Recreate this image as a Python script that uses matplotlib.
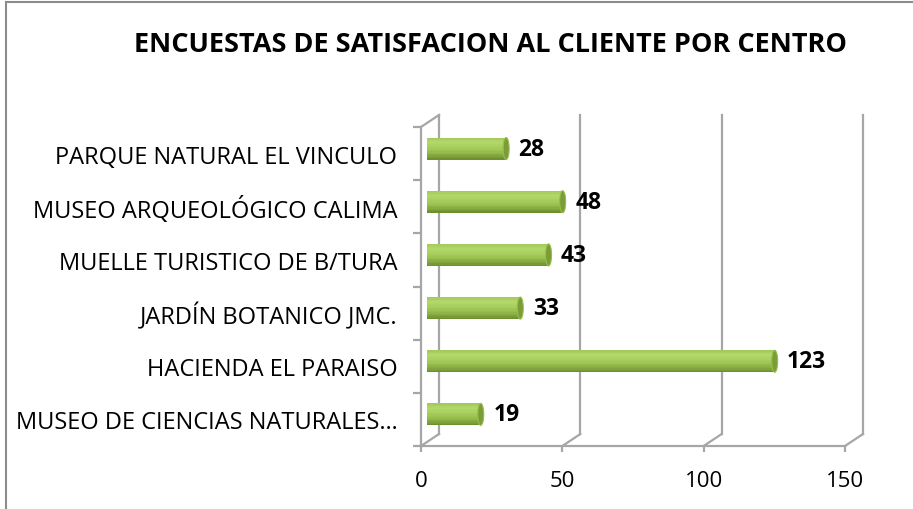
import numpy
import matplotlib
matplotlib.use('Agg')
import matplotlib.pyplot as plt
from matplotlib.patches import Ellipse, Rectangle
from matplotlib.colors import LinearSegmentedColormap


CENTROS = [
    "MUSEO DE CIENCIAS NATURALES…",
    "HACIENDA EL PARAISO",
    "JARDÍN BOTANICO JMC.",
    "MUELLE TURISTICO DE B/TURA",
    "MUSEO ARQUEOLÓGICO CALIMA",
    "PARQUE NATURAL EL VINCULO",
]
ENCUESTAS = [19, 123, 33, 43, 48, 28]
X_TICKS = [0, 50, 100, 150]
TITULO = "ENCUESTAS DE SATISFACION AL CLIENTE POR CENTRO"

FONT = ['Open Sans', 'DejaVu Sans']
GRID = '#a6a6a6'
W, H = 913, 510


def draw_chart():
    plt.rcParams['font.family'] = FONT
    fig = plt.figure(figsize=(W / 100, H / 100), dpi=100)

    # plot area in pixels (floor front edge / left wall)
    left, right, bottom, top = 421, 845, 447, 128
    ax = fig.add_axes([left / W, 1 - bottom / H,
                       (right - left) / W, (bottom - top) / H])
    ax.set_xlim(0, 150)
    ax.set_ylim(-0.5, len(CENTROS) - 0.5)
    for s in ax.spines.values():
        s.set_visible(False)

    # depth of the fake 3d box, converted from pixels to data units
    sx = (right - left) / 150
    sy = (bottom - top) / len(CENTROS)
    dx, dy = 18 / sx, 12 / sy
    ymin, ymax = -0.5, len(CENTROS) - 0.5

    lw = 1.6
    for v in X_TICKS:
        ax.plot([v + dx, v + dx], [ymin + dy, ymax + dy], color=GRID, lw=lw,
                clip_on=False, zorder=1)
        ax.plot([v, v + dx], [ymin, ymin + dy], color=GRID, lw=lw,
                clip_on=False, zorder=1)
    ax.plot([0, 0], [ymin, ymax], color=GRID, lw=lw, clip_on=False, zorder=1)
    ax.plot([0, dx], [ymax, ymax + dy], color=GRID, lw=lw, clip_on=False,
            zorder=1)
    ax.plot([0, 150], [ymin, ymin], color=GRID, lw=lw, clip_on=False,
            zorder=1)

    # cylinders (stacked strips for the shading)
    cmap = LinearSegmentedColormap.from_list(
        'cil', ['#6b8a2c', '#86aa40', '#9cc352', '#a9d05f', '#b3d86c',
                '#a2c858'])
    bh = 22 / sy
    bx, by = 6 / sx, 5 / sy
    nstrip = 16
    y = numpy.arange(len(CENTROS))
    for k in range(nstrip):
        frac = k / nstrip
        ax.barh(y + by - bh / 2 + frac * bh, ENCUESTAS, left=bx,
                height=bh / nstrip * 1.05, align='edge',
                color=cmap((k + 0.5) / nstrip), lw=0, zorder=3)
    for i, v in enumerate(ENCUESTAS):
        ax.add_patch(Ellipse((bx + v, i + by), 6 / sx, bh,
                             facecolor='#7b9c37', edgecolor='#97bd4e',
                             lw=0.8, zorder=4))
        ax.annotate(str(v), (bx + v, i + by), xytext=(9, 0),
                    textcoords='offset points', va='center', ha='left',
                    fontsize=16.5, fontweight='bold', color='black', zorder=5)

    ax.set_yticks(y)
    ax.set_yticklabels(CENTROS, fontsize=17)
    ax.tick_params(axis='y', length=0, pad=17)
    ax.set_yticks(numpy.arange(-0.5, len(CENTROS)), minor=True)
    ax.tick_params(axis='y', which='minor', length=6, width=lw, color=GRID)
    ax.set_xticks(X_TICKS)
    ax.set_xticklabels([str(t) for t in X_TICKS], fontsize=16)
    ax.tick_params(axis='x', length=4, width=lw, color=GRID, pad=13)

    fig.text(490 / W, 1 - 45 / H, TITULO, ha='center', va='center',
             fontsize=19.5, fontweight='bold')

    # chart border (only left and top are visible)
    fig.patches.append(Rectangle((6 / W, -0.1), 1.2, 1.1 - 3 / H,
                                 transform=fig.transFigure, fill=False,
                                 edgecolor='#8c8c8c', lw=1.5))

    fig.savefig('out.png', dpi=100)


if __name__ == '__main__':
    draw_chart()
